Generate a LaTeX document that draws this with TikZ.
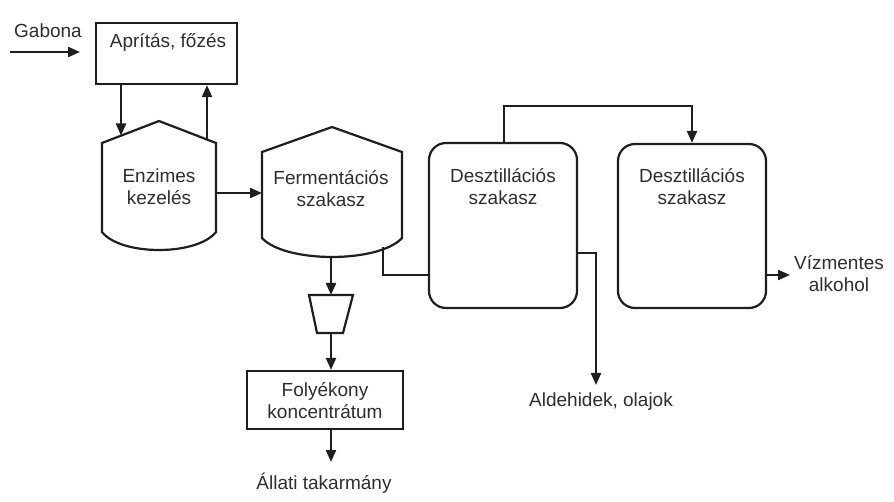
\documentclass[tikz,border=0pt]{standalone}
\usepackage{fontspec}
\setmainfont{Liberation Sans}
\usetikzlibrary{arrows.meta}
\definecolor{linec}{HTML}{1E1E1E}
\definecolor{txtc}{HTML}{2E2E2E}
\begin{document}
\begin{tikzpicture}[x=1pt,y=-1pt,
  line width=2.2pt, color=linec,
  >={Triangle[length=12pt,width=10pt]},
  lbl/.style={font=\fontsize{19}{22}\selectfont, text=txtc, align=center, inner sep=0pt},
  plainbox/.style={draw=linec, line width=2.2pt, inner sep=0pt},
  tank/.style={draw=linec, line width=2.2pt, inner sep=0pt, rounded corners=17pt},
  flow/.style={->, line width=2.2pt}]
\useasboundingbox (0,0) rectangle (894,502);
\fill[white] (0,0) rectangle (894,502);

% input
\node[lbl] (gab) at (48,31) {Gabona};
\coordinate (gabS) at (10,52);
\coordinate (gabE) at (80,52);
\draw[flow] (gabS) -- (gabE);

% Aprítás, főzés
\node[plainbox, minimum width=141pt, minimum height=61pt] (apr) at (166.5,53.5) {};
\node[lbl] (aprT) at (168,42) {Aprítás, főzés};

% Enzimes kezelés (hexagonal vessel)
\draw (102,143) -- (159,121) -- (216,143) -- (216,232)
  .. controls (197,256) and (121,256) .. (102,232) -- cycle;
\node[lbl] (enz) at (159,186.5) {Enzimes\\kezelés};
\coordinate (enzIn) at (121,135.5);
\coordinate (enzOut) at (207,139.5);
\coordinate (enzR) at (216,193);
\draw[flow] (apr.south -| enzIn) -- (enzIn);
\draw[flow] (enzOut) -- (apr.south -| enzOut);

% Fermentációs szakasz
\draw (262,152) -- (332,127) -- (402,152) -- (402,238)
  .. controls (379,263.3) and (285,263.3) .. (262,238) -- cycle;
\node[lbl] (ferm) at (331,189) {Fermentációs\\szakasz};
\coordinate (fermL) at (262,193);
\coordinate (fermB) at (331,256.5);
\coordinate (fermO) at (383,247);
\coordinate (fermK) at (383,275);
\draw[flow] (enzR) -- (fermL);

% trapezoid (filter)
\draw (309,295) -- (353,295) -- (343,333) -- (317,333) -- cycle;
\coordinate (trapT) at (331,295);
\coordinate (trapB) at (331,333);
\draw[flow] (fermB) -- (trapT);

% Folyékony koncentrátum
\node[plainbox, minimum width=156pt, minimum height=58pt] (foly) at (325,400) {};
\node[lbl] (folyT) at (325,401) {Folyékony\\koncentrátum};
\draw[flow] (trapB) -- (foly.north -| trapB);
\coordinate (allIn) at (331,462);
\draw[flow] (foly.south -| allIn) -- (allIn);
\node[lbl] (all) at (324,483) {Állati takarmány};

% Desztillációs szakasz 1
\node[tank, minimum width=148pt, minimum height=165pt] (d1) at (503,225.5) {};
\node[lbl] (d1T) at (503,187) {Desztillációs\\szakasz};
\draw (fermO) -- (fermK) -- (d1.west |- fermK);

% Desztillációs szakasz 2
\node[tank, minimum width=148pt, minimum height=164pt] (d2) at (692,226) {};
\node[lbl] (d2T) at (692,187) {Desztillációs\\szakasz};
\coordinate (topL) at (504,106);
\draw[flow] (d1.north -| topL) -- (topL) -| (d2.north);

% Aldehidek, olajok
\coordinate (aldK) at (596,253);
\coordinate (aldIn) at (596,385);
\draw[flow] (d1.east |- aldK) -- (aldK) -- (aldIn);
\node[lbl] (ald) at (601,402) {Aldehidek, olajok};

% Vízmentes alkohol
\coordinate (vizIn) at (790,275);
\draw[flow] (d2.east |- vizIn) -- (vizIn);
\node[lbl] (viz) at (839,274) {Vízmentes\\alkohol};
\end{tikzpicture}
\end{document}
